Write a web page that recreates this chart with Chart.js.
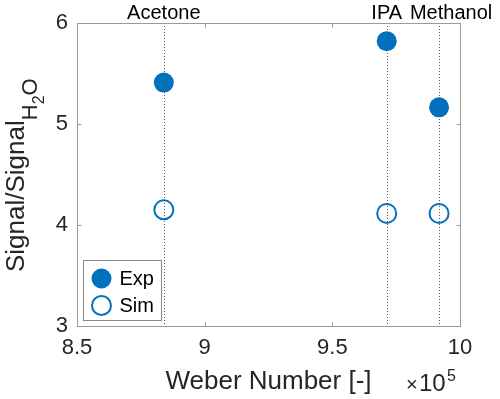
<!DOCTYPE html>
<html>
<head>
<meta charset="utf-8">
<script src="https://cdn.jsdelivr.net/npm/chart.js@4/dist/chart.umd.min.js"></script>
<style>
  html, body { margin: 0; padding: 0; background: #fff; }
  #wrap { width: 500px; height: 399px; position: relative; }
</style>
</head>
<body>
<div id="wrap"><canvas id="chart" width="500" height="399"></canvas></div>
<script>
// values (x in units of 1e5)
const substances = ['Acetone', 'IPA', 'Methanol'];
const weberNumber = [8.84, 9.713, 9.918];
const expSignal = [5.41, 5.82, 5.165];
const simSignal = [4.15, 4.115, 4.115];
const xTicks = [8.5, 9, 9.5, 10];
const yTicks = [3, 4, 5, 6];
const seriesNames = ['Exp', 'Sim'];

const FONT = '"Liberation Sans", Arial, Helvetica, sans-serif';
const BLUE = '#0072BD';
const TEXT = '#262626';
const AXIS = '#9a9a9a';

const overlay = {
  id: 'overlay',
  afterDatasetsDraw(chart) {
    const ctx = chart.ctx;
    const area = chart.chartArea;
    const xs = chart.scales.x, ys = chart.scales.y;
    ctx.save();

    // dotted vertical markers + names on top
    ctx.strokeStyle = '#555';
    ctx.lineWidth = 1;
    ctx.setLineDash([1, 2]);
    substances.forEach((name, i) => {
      const px = Math.round(xs.getPixelForValue(weberNumber[i])) + 0.5;
      ctx.beginPath();
      ctx.moveTo(px, area.top);
      ctx.lineTo(px, area.bottom);
      ctx.stroke();
    });
    ctx.setLineDash([]);
    ctx.fillStyle = '#000';
    ctx.font = '20px ' + FONT;
    ctx.textAlign = 'center';
    ctx.textBaseline = 'alphabetic';
    substances.forEach((name, i) => {
      let px = xs.getPixelForValue(weberNumber[i]);
      if (name === 'Methanol') px += 12;
      ctx.fillText(name, px, 19);
    });

    // axes box
    ctx.strokeStyle = AXIS;
    ctx.lineWidth = 1;
    const l = Math.round(area.left) + 0.5, r = Math.round(area.right) + 0.5;
    const t = Math.round(area.top) + 0.5, b = Math.round(area.bottom) + 0.5;
    ctx.strokeRect(l, t, r - l, b - t);
    // inward ticks
    ctx.beginPath();
    xTicks.forEach(v => {
      const px = Math.round(xs.getPixelForValue(v)) + 0.5;
      ctx.moveTo(px, b); ctx.lineTo(px, b - 4);
      ctx.moveTo(px, t); ctx.lineTo(px, t + 4);
    });
    yTicks.forEach(v => {
      const py = Math.round(ys.getPixelForValue(v)) + 0.5;
      ctx.moveTo(l, py); ctx.lineTo(l + 4, py);
      ctx.moveTo(r, py); ctx.lineTo(r - 4, py);
    });
    ctx.stroke();

    // legend
    const lx = 83.5, ly = 260.5, lw = 78, lh = 60;
    ctx.fillStyle = '#fff';
    ctx.fillRect(lx, ly, lw, lh);
    ctx.strokeStyle = '#8a8a8a';
    ctx.strokeRect(lx, ly, lw, lh);
    chart.data.datasets.forEach((ds, i) => {
      const cy = ly + 18 + i * 27;
      const cx = lx + 18;
      ctx.beginPath();
      ctx.arc(cx, cy, ds.pointRadius, 0, Math.PI * 2);
      if (ds.backgroundColor !== 'rgba(0,0,0,0)') {
        ctx.fillStyle = ds.backgroundColor;
        ctx.fill();
      }
      if (ds.borderWidth > 0) {
        ctx.lineWidth = ds.borderWidth;
        ctx.strokeStyle = ds.borderColor;
        ctx.stroke();
      }
      ctx.fillStyle = '#000';
      ctx.font = '20px ' + FONT;
      ctx.textAlign = 'left';
      ctx.textBaseline = 'middle';
      ctx.fillText(ds.label, lx + 36, cy + 1);
    });

    // x axis title and exponent
    ctx.fillStyle = TEXT;
    ctx.textAlign = 'center';
    ctx.textBaseline = 'alphabetic';
    ctx.font = '26px ' + FONT;
    ctx.fillText('Weber Number [-]', (area.left + area.right) / 2, 389);
    ctx.textAlign = 'left';
    ctx.font = '20px ' + FONT;
    ctx.fillText('\u00d7', 406, 391);
    ctx.font = '24px ' + FONT;
    ctx.fillText('10', 419, 391);
    ctx.font = '16px ' + FONT;
    ctx.fillText('5', 447, 381);

    // y axis title with subscripts
    ctx.save();
    ctx.rotate(-Math.PI / 2);
    ctx.textAlign = 'left';
    ctx.font = '26px ' + FONT;
    const main = 'Signal/Signal';
    const start = -272;
    ctx.fillText(main, start, 24);
    let off = start + ctx.measureText(main).width;
    ctx.font = '22px ' + FONT;
    ctx.fillText('H', off, 37);
    off += ctx.measureText('H').width;
    ctx.font = '16px ' + FONT;
    ctx.fillText('2', off, 44);
    off += ctx.measureText('2').width;
    ctx.font = '22px ' + FONT;
    ctx.fillText('O', off, 37);
    ctx.restore();

    ctx.restore();
  }
};

new Chart(document.getElementById('chart'), {
  type: 'scatter',
  data: {
    datasets: [
      {
        label: seriesNames[0],
        data: weberNumber.map((x, i) => ({ x: x, y: expSignal[i] })),
        pointRadius: 10,
        pointHoverRadius: 10,
        backgroundColor: BLUE,
        borderColor: BLUE,
        borderWidth: 0
      },
      {
        label: seriesNames[1],
        data: weberNumber.map((x, i) => ({ x: x, y: simSignal[i] })),
        pointRadius: 9.5,
        pointHoverRadius: 9.5,
        backgroundColor: 'rgba(0,0,0,0)',
        borderColor: BLUE,
        borderWidth: 2
      }
    ]
  },
  options: {
    responsive: false,
    animation: false,
    layout: { padding: { top: 23, right: 40, left: 0, bottom: 0 } },
    plugins: { legend: { display: false }, tooltip: { enabled: false } },
    scales: {
      x: {
        type: 'linear',
        min: 8.5,
        max: 10,
        afterBuildTicks: s => { s.ticks = xTicks.map(v => ({ value: v })); },
        afterFit: s => { s.height = 73; },
        grid: { display: false, drawTicks: false },
        border: { display: false },
        ticks: {
          color: TEXT,
          font: { family: FONT, size: 22 },
          padding: 9,
          maxRotation: 0,
          callback: v => String(v)
        }
      },
      y: {
        min: 3,
        max: 6,
        afterBuildTicks: s => { s.ticks = yTicks.map(v => ({ value: v })); },
        afterFit: s => { s.width = 77; },
        grid: { display: false, drawTicks: false },
        border: { display: false },
        ticks: {
          color: TEXT,
          font: { family: FONT, size: 22 },
          padding: 9,
          callback: v => String(v)
        }
      }
    }
  },
  plugins: [overlay]
});
</script>
</body>
</html>
